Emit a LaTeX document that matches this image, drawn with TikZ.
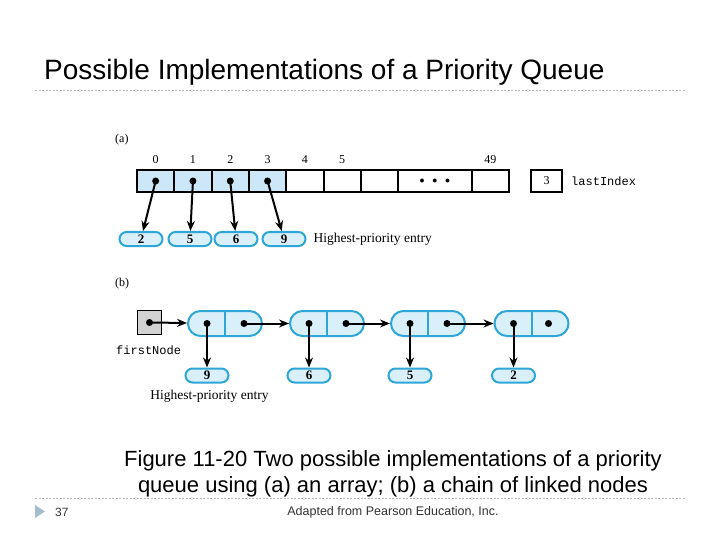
\documentclass[tikz,border=0pt]{standalone}
\usepackage{fontspec}
\setmainfont{Liberation Serif}
\setsansfont{Liberation Sans}
\setmonofont{Liberation Mono}
\usepackage{tikz}
\usetikzlibrary{arrows.meta, positioning, calc, shapes.misc}
\definecolor{cellblue}{HTML}{CCE8F8}
\definecolor{ovalfill}{HTML}{D9F0FA}
\definecolor{ovalline}{HTML}{2EA6D8}
\definecolor{rulegray}{HTML}{B4B4B4}
\definecolor{bullet}{HTML}{A7BCCD}

\begin{document}
\begin{tikzpicture}[
  x=1pt, y=-1pt,
  cell/.style={draw, line width=2pt, minimum width=37.3pt, minimum height=22pt, inner sep=0pt, outer sep=0pt},
  full/.style={cell, fill=cellblue},
  oval/.style={rounded rectangle, draw=ovalline, line width=2pt, fill=ovalfill, minimum width=43pt, minimum height=14pt, inner sep=0pt, font=\bfseries\fontsize{13}{13}\selectfont},
  lnode/.style={rounded rectangle, draw=ovalline, line width=2pt, fill=ovalfill, minimum width=74pt, minimum height=25pt, inner sep=0pt},
  dot/.style={circle, fill=black, inner sep=0pt, minimum size=7pt},
  idx/.style={font=\fontsize{12}{12}\selectfont},
  lbl/.style={font=\fontsize{12}{12}\selectfont, inner sep=0pt, anchor=west},
  code/.style={font=\ttfamily\fontsize{12}{12}\selectfont, inner sep=0pt, anchor=west},
  arrow/.style={-{Stealth[length=10pt, width=8pt]}, line width=2pt}
]
\useasboundingbox (0,0) rectangle (720,540);
\node[font=\sffamily\fontsize{28}{28}\selectfont, anchor=base west, inner sep=0pt] (title) at (44,80) {Possible Implementations of a Priority Queue};
\draw[rulegray, dash pattern=on 2pt off 1.5pt] (35,90) -- (685,90);
\draw[rulegray, dash pattern=on 2pt off 1.5pt] (35,498) -- (685,498);

% (a) array
\node[lbl] (la) at (115,140) {(a)};
\node[full, anchor=west] (c0) at (137,181) {};
\node[full, right=0pt of c0] (c1) {};
\node[full, right=0pt of c1] (c2) {};
\node[full, right=0pt of c2] (c3) {};
\node[cell, right=0pt of c3] (c4) {};
\node[cell, right=0pt of c4] (c5) {};
\node[cell, right=0pt of c5] (c6) {};
\node[cell, right=0pt of c6, minimum width=73.5pt] (c7) {$\bullet\;\;\bullet\;\;\bullet$};
\node[cell, right=0pt of c7] (c49) {};
\node[idx, above=3pt of c0] {0};
\node[idx, above=3pt of c1] {1};
\node[idx, above=3pt of c2] {2};
\node[idx, above=3pt of c3] {3};
\node[idx, above=3pt of c4] {4};
\node[idx, above=3pt of c5] {5};
\node[idx, above=3pt of c49] {49};
\node[dot] (p0) at (c0) {};
\node[dot] (p1) at (c1) {};
\node[dot] (p2) at (c2) {};
\node[dot] (p3) at (c3) {};
\node[cell, minimum width=31pt, font=\fontsize{12}{12}\selectfont] (last) at (546.5,181) {3};
\node[code, right=9pt of last] (lastname) {lastIndex};

\node[oval] (o0) at (141,239) {2};
\node[oval] (o1) at (190,239) {5};
\node[oval] (o2) at (236,239) {6};
\node[oval] (o3) at (284,239) {9};
\node[lbl, right=7pt of o3, font=\fontsize{13.5}{13.5}\selectfont] (hia) {Highest-priority entry};
\draw[arrow] (p0.center) -- (o0);
\draw[arrow] (p1.center) -- (o1);
\draw[arrow] (p2.center) -- (o2);
\draw[arrow] (p3.center) -- (o3);

% (b) chain of linked nodes
\node[lbl] (lb) at (115,284) {(b)};
\node[draw, line width=1pt, fill=gray!35, minimum size=24pt, inner sep=0pt] (first) at (149.5,322.5) {};
\node[dot] (pf) at (first) {};
\node[code] (firstname) at (116,350) {firstNode};

\node[lnode] (n1) at (225,323.5) {};
\node[lnode] (n2) at (327,323.5) {};
\node[lnode] (n3) at (428,323.5) {};
\node[lnode] (n4) at (531.5,323.5) {};
\draw[ovalline, line width=2pt] (n1.north) -- (n1.south);
\draw[ovalline, line width=2pt] (n2.north) -- (n2.south);
\draw[ovalline, line width=2pt] (n3.north) -- (n3.south);
\draw[ovalline, line width=2pt] (n4.north) -- (n4.south);
\node[dot] (d1) at ($(n1.center)+(-18,0)$) {};
\node[dot] (e1) at ($(n1.center)+(19,0)$) {};
\node[dot] (d2) at ($(n2.center)+(-18,0)$) {};
\node[dot] (e2) at ($(n2.center)+(19,0)$) {};
\node[dot] (d3) at ($(n3.center)+(-18,0)$) {};
\node[dot] (e3) at ($(n3.center)+(19,0)$) {};
\node[dot] (d4) at ($(n4.center)+(-18,0)$) {};
\node[dot] (e4) at ($(n4.center)+(17,0)$) {};

\node[oval] (v1) at (d1 |- 0,375.5) {9};
\node[oval] (v2) at (d2 |- 0,375.5) {6};
\node[oval] (v3) at (d3 |- 0,375.5) {5};
\node[oval] (v4) at (d4 |- 0,375.5) {2};
\node[font=\fontsize{13.5}{13.5}\selectfont, inner sep=0pt] (hib) at (209.5,396.5) {Highest-priority entry};

\draw[arrow] (pf.center) -- (n1);
\draw[arrow] (e1.center) -- (n2);
\draw[arrow] (e2.center) -- (n3);
\draw[arrow] (e3.center) -- (n4);
\draw[arrow] (d1.center) -- (v1);
\draw[arrow] (d2.center) -- (v2);
\draw[arrow] (d3.center) -- (v3);
\draw[arrow] (d4.center) -- (v4);

% caption and footer
\node[font=\sffamily\fontsize{22}{26}\selectfont, align=center, anchor=north, inner sep=0pt] (cap) at (393,450) {Figure 11-20 Two possible implementations of a priority\\queue using (a) an array; (b) a chain of linked nodes};
\fill[bullet] (35,505) -- (45,511.5) -- (35,518) -- cycle;
\node[font=\sffamily\fontsize{12}{12}\selectfont, anchor=west, inner sep=0pt, text=black!80] (page) at (55,512.5) {37};
\node[font=\sffamily\fontsize{12.5}{12.5}\selectfont, inner sep=0pt, text=black!80] (credit) at (393,512.5) {Adapted from Pearson Education, Inc.};
\end{tikzpicture}
\end{document}
